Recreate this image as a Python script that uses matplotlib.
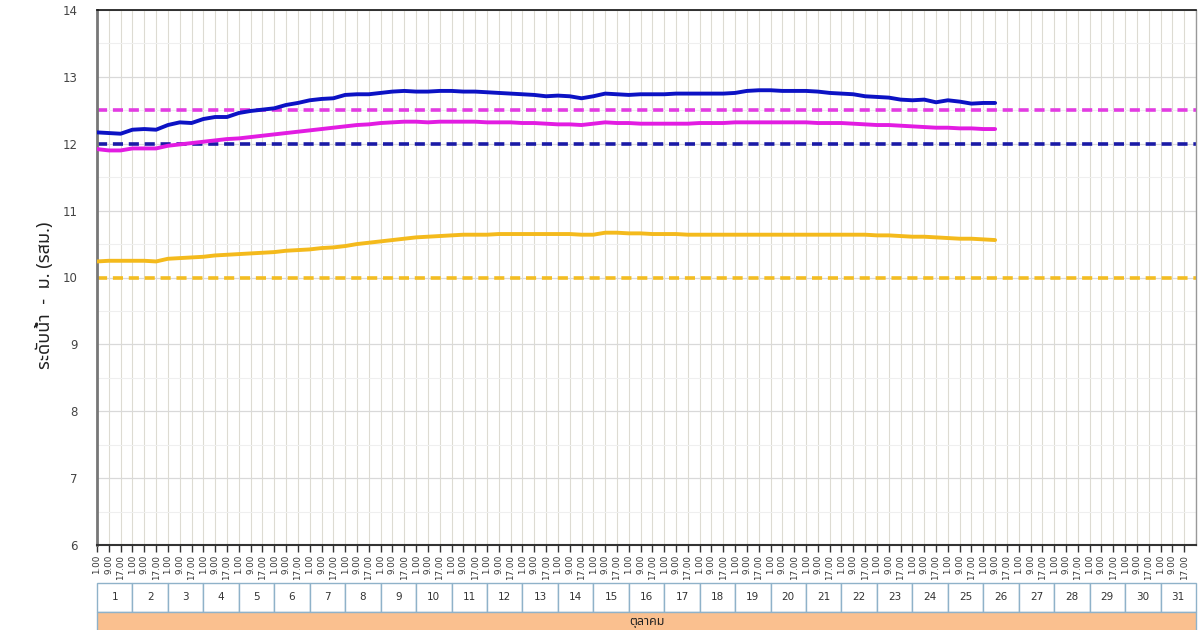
import matplotlib
matplotlib.use("Agg")
import matplotlib.pyplot as plt
from matplotlib import font_manager
from matplotlib.ft2font import FT2Font
from matplotlib.patches import Rectangle
import matplotlib.transforms as mtransforms

# ---------------- data ----------------
days = list(range(1, 32))
hours = ["1.00", "9.00", "17.00"]
month_label = "ตุลาคม"
y_label = "ระดับน้ำ  -  ม. (รสม.)"

blue_level = [12.17, 12.16, 12.15, 12.21, 12.22, 12.21, 12.28, 12.32, 12.31, 12.37,
              12.40, 12.40, 12.46, 12.49, 12.51, 12.53, 12.58, 12.61, 12.65, 12.67,
              12.68, 12.73, 12.74, 12.74, 12.76, 12.78, 12.79, 12.78, 12.78, 12.79,
              12.79, 12.78, 12.78, 12.77, 12.76, 12.75, 12.74, 12.73, 12.71, 12.72,
              12.71, 12.68, 12.71, 12.75, 12.74, 12.73, 12.74, 12.74, 12.74, 12.75,
              12.75, 12.75, 12.75, 12.75, 12.76, 12.79, 12.80, 12.80, 12.79, 12.79,
              12.79, 12.78, 12.76, 12.75, 12.74, 12.71, 12.70, 12.69, 12.66, 12.65,
              12.66, 12.62, 12.65, 12.63, 12.60, 12.61, 12.61]
pink_level = [11.92, 11.90, 11.90, 11.93, 11.93, 11.93, 11.97, 11.99, 12.01, 12.03,
              12.05, 12.07, 12.08, 12.10, 12.12, 12.14, 12.16, 12.18, 12.20, 12.22,
              12.24, 12.26, 12.28, 12.29, 12.31, 12.32, 12.33, 12.33, 12.32, 12.33,
              12.33, 12.33, 12.33, 12.32, 12.32, 12.32, 12.31, 12.31, 12.30, 12.29,
              12.29, 12.28, 12.30, 12.32, 12.31, 12.31, 12.30, 12.30, 12.30, 12.30,
              12.30, 12.31, 12.31, 12.31, 12.32, 12.32, 12.32, 12.32, 12.32, 12.32,
              12.32, 12.31, 12.31, 12.31, 12.30, 12.29, 12.28, 12.28, 12.27, 12.26,
              12.25, 12.24, 12.24, 12.23, 12.23, 12.22, 12.22]
yellow_level = [10.24, 10.25, 10.25, 10.25, 10.25, 10.24, 10.28, 10.29, 10.30, 10.31,
                10.33, 10.34, 10.35, 10.36, 10.37, 10.38, 10.40, 10.41, 10.42, 10.44,
                10.45, 10.47, 10.50, 10.52, 10.54, 10.56, 10.58, 10.60, 10.61, 10.62,
                10.63, 10.64, 10.64, 10.64, 10.65, 10.65, 10.65, 10.65, 10.65, 10.65,
                10.65, 10.64, 10.64, 10.67, 10.67, 10.66, 10.66, 10.65, 10.65, 10.65,
                10.64, 10.64, 10.64, 10.64, 10.64, 10.64, 10.64, 10.64, 10.64, 10.64,
                10.64, 10.64, 10.64, 10.64, 10.64, 10.64, 10.63, 10.63, 10.62, 10.61,
                10.61, 10.60, 10.59, 10.58, 10.58, 10.57, 10.56]
pink_ref = 12.5
blue_ref = 12.0
yellow_ref = 10.0

# ---------------- fonts ----------------
def find_thai_font():
    preferred = ["Noto Sans Thai", "Noto Sans Thai UI", "Tahoma", "Garuda", "Loma",
                 "Norasi", "Kinnari", "Sarabun", "TH Sarabun New", "Waree", "Umpush"]
    found = []
    for f in font_manager.fontManager.ttflist:
        try:
            ft = FT2Font(f.fname)
            if ft.get_char_index(ord("ร")) and ft.get_char_index(ord("ั")):
                found.append(f.name)
        except Exception:
            pass
    for p in preferred:
        if p in found:
            return p
    return found[0] if found else None

thai = find_thai_font()
thai_family = [thai, "DejaVu Sans"] if thai else ["DejaVu Sans"]

# ---------------- figure ----------------
fig = plt.figure(figsize=(12, 6.3), dpi=100)
ax = fig.add_axes([97 / 1200, 1 - 545 / 630, (1196 - 97) / 1200, (545 - 10) / 630])

n_ticks = len(days) * len(hours)
x_data = list(range(len(blue_level)))

ax.set_xlim(0, n_ticks)
ax.set_ylim(6, 14)

# grid
ax.set_yticks(range(6, 15))
ax.set_yticks([v + 0.5 for v in range(6, 14)], minor=True)
ax.grid(axis="y", which="major", color="#d9d9d9", lw=0.9, zorder=0)
ax.grid(axis="y", which="minor", color="#efefef", lw=0.8, zorder=0)
tick_pos = list(range(n_ticks))
ax.set_xticks(tick_pos)
ax.set_xticklabels([h for d in days for h in hours], rotation=90, fontsize=6.3,
                   color="#333333", va="top")
for xp in tick_pos[1:] + [n_ticks]:
    ax.axvline(xp, color="#dddbd2", lw=0.8, zorder=0)

ax.tick_params(axis="y", length=0, pad=14, labelsize=8.5, labelcolor="#444444")
ax.tick_params(axis="x", length=5, width=1, color="#333333", pad=2)
ax.tick_params(axis="y", which="minor", length=0)

ax.spines["top"].set_color("#111111")
ax.spines["top"].set_linewidth(1.2)
ax.spines["right"].set_color("#999999")
ax.spines["right"].set_linewidth(1.0)
ax.spines["left"].set_color("#777777")
ax.spines["left"].set_linewidth(2.0)
ax.spines["bottom"].set_color("#333333")
ax.spines["bottom"].set_linewidth(1.5)

# reference dashed lines
dash = (0, (2.8, 1.6))
ax.axhline(pink_ref, color="#e23ce2", lw=2.6, linestyle=dash, zorder=2)
ax.axhline(blue_ref, color="#1a1aa6", lw=2.6, linestyle=dash, zorder=2)
ax.axhline(yellow_ref, color="#f3bd22", lw=2.6, linestyle=dash, zorder=2)

# data lines
ax.plot(x_data, blue_level, color="#0c12c4", lw=2.8, zorder=3, solid_capstyle="round")
ax.plot(x_data, pink_level, color="#e21ce2", lw=2.8, zorder=3, solid_capstyle="round")
ax.plot(x_data, yellow_level, color="#f4ba1c", lw=2.8, zorder=3, solid_capstyle="round")

# y label
fig.text(45 / 1200, 1 - 295 / 630, y_label, rotation=90, ha="center", va="center",
         fontsize=13, color="#222222", family=thai_family)

# day row and month row under the axis
trans = mtransforms.blended_transform_factory(ax.transData, ax.transAxes)
px = 1.0 / 535.0
day_top = -(583 - 545) * px
day_bot = -(612 - 545) * px
for i, d in enumerate(days):
    x0 = i * len(hours)
    r = Rectangle((x0, day_bot), len(hours), day_top - day_bot, transform=trans,
                  facecolor="white", edgecolor="#8fb2c9", lw=1.0, clip_on=False)
    ax.add_patch(r)
    ax.text(x0 + len(hours) / 2, (day_top + day_bot) / 2, str(d), transform=trans,
            ha="center", va="center", fontsize=7.5, color="#333333", clip_on=False)

month_bot = -(640 - 545) * px
r = Rectangle((0, month_bot), n_ticks, day_bot - month_bot, transform=trans,
              facecolor="#fac08f", edgecolor="#8fb2c9", lw=1.0, clip_on=False)
ax.add_patch(r)
ax.text(n_ticks / 2, -(621 - 545) * px, month_label, transform=trans, ha="center",
        va="center", fontsize=9, color="#222222", family=thai_family, clip_on=False)

fig.savefig("out.png", dpi=100)
